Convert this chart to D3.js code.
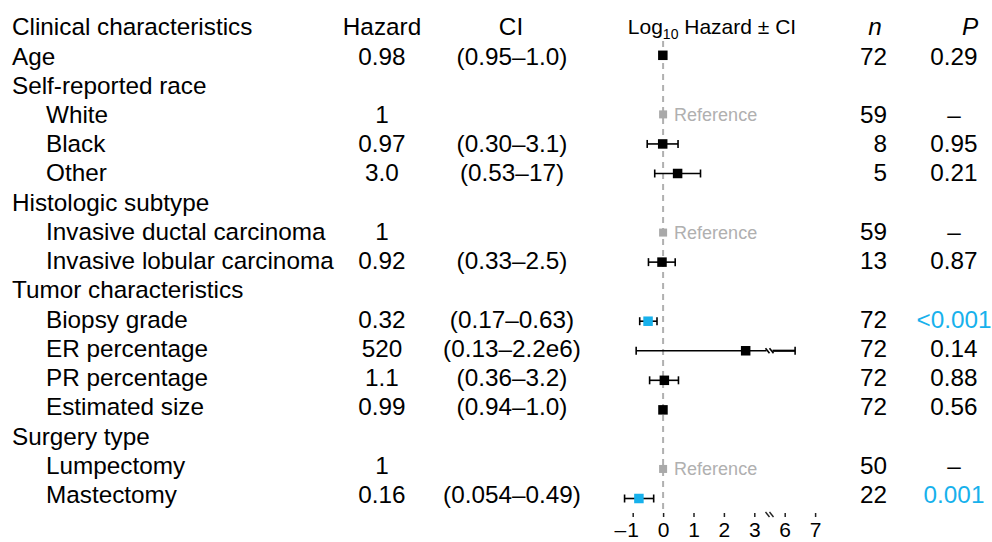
<!DOCTYPE html>
<html>
<head>
<meta charset="utf-8">
<script src="https://cdn.jsdelivr.net/npm/d3@7"></script>
<style>
    body { margin: 0; background: #fff; }
    svg text { font-family: "Liberation Sans", Arial, sans-serif; }
</style>
</head>
<body>
<div id="chart"></div>
<script>

// Row labels, top to bottom. Indented rows are sub-levels of a group.
let labels = ["Age", "Self-reported race", "White", "Black", "Other",
    "Histologic subtype", "Invasive ductal carcinoma", "Invasive lobular carcinoma",
    "Tumor characteristics", "Biopsy grade", "ER percentage", "PR percentage",
    "Estimated size", "Surgery type", "Lumpectomy", "Mastectomy"];
let indented = [false, false, true, true, true, false, true, true,
    false, true, true, true, true, false, true, true];

// Hazard ratios and confidence intervals (null = group heading, no estimate)
let hazard = [0.98, null, 1, 0.97, 3.0, null, 1, 0.92, null, 0.32, 520, 1.1, 0.99, null, 1, 0.16];
let ciLow = [0.95, null, null, 0.30, 0.53, null, null, 0.33, null, 0.17, 0.13, 0.36, 0.94, null, null, 0.054];
let ciHigh = [1.0, null, null, 3.1, 17, null, null, 2.5, null, 0.63, 2.2e6, 3.2, 1.0, null, null, 0.49];
let isReference = [false, false, true, false, false, false, true, false,
    false, false, false, false, false, false, true, false];

// Printed columns
let hazardText = ["0.98", "", "1", "0.97", "3.0", "", "1", "0.92", "", "0.32", "520", "1.1", "0.99", "", "1", "0.16"];
let ciText = ["(0.95\u20131.0)", "", "", "(0.30\u20133.1)", "(0.53\u201317)", "", "", "(0.33\u20132.5)", "",
    "(0.17\u20130.63)", "(0.13\u20132.2e6)", "(0.36\u20133.2)", "(0.94\u20131.0)", "", "", "(0.054\u20130.49)"];
let nText = ["72", "", "59", "8", "5", "", "59", "13", "", "72", "72", "72", "72", "", "50", "22"];
let pText = ["0.29", "", "\u2013", "0.95", "0.21", "", "\u2013", "0.87", "", "<0.001", "0.14", "0.88", "0.56", "", "\u2013", "0.001"];
let significant = [false, false, false, false, false, false, false, false,
    false, true, false, false, false, false, false, true];

// Axis ticks (log10 scale, broken between 3 and 6)
let tickValues = [-1, 0, 1, 2, 3, 6, 7];
let axisBreak = [3.5, 5.5];

let WIDTH = 992,
    HEIGHT = 542,
    FONT = 24.3,
    BLUE = "#17b1ec",
    GREY = "#a9a9a9",
    X_LABEL = 12,
    X_INDENT = 46,
    X_HAZARD = 382,
    X_CI = 512,
    X_N = 887,
    X_P = 954
;

let svg = d3.select("#chart")
    .append("svg")
    .attr("width", WIDTH)
    .attr("height", HEIGHT);

let rows = d3.range(labels.length);

// Text baselines and marker centres drift slightly apart in the original
let yText = d3.scalePoint().domain(rows).range([64.5, 503]);
let yMark = d3.scalePoint().domain(rows).range([55.3, 498.5]);

// Piecewise log10 scale, flat across the break
let x = d3.scaleLinear()
    .domain([-1, axisBreak[0], axisBreak[1], 7])
    .range([632.7, 769.5, 769.5, 815.1]);
let breakX = x(axisBreak[0]);

// Column headers

let header = svg.append("g").attr("font-size", FONT).attr("fill", "#000");
header.append("text").attr("x", X_LABEL).attr("y", 35).text("Clinical characteristics");
header.append("text").attr("x", X_HAZARD).attr("y", 35).attr("text-anchor", "middle").text("Hazard");
header.append("text").attr("x", X_CI - 1).attr("y", 35).attr("text-anchor", "middle").text("CI");
header.append("text").attr("x", 875).attr("y", 35).attr("text-anchor", "middle")
    .attr("font-style", "italic").text("n");
header.append("text").attr("x", 970).attr("y", 35).attr("text-anchor", "middle")
    .attr("font-style", "italic").text("P");

let logHead = header.append("text")
    .attr("x", 712).attr("y", 34)
    .attr("text-anchor", "middle")
    .attr("font-size", 21);
logHead.append("tspan").text("Log");
logHead.append("tspan").attr("font-size", 14).attr("dy", 5).text("10");
logHead.append("tspan").attr("dy", -5).text(" Hazard \u00b1 CI");

// Null line at log10(1) = 0

svg.append("line")
    .attr("x1", x(0)).attr("x2", x(0))
    .attr("y1", 41).attr("y2", 510)
    .attr("stroke", "#b0b0b0")
    .attr("stroke-width", 2)
    .attr("stroke-dasharray", "6,5");

// Table columns

let table = svg.append("g").attr("font-size", FONT).attr("fill", "#000");

table.selectAll(".label")
    .data(rows)
    .enter()
    .append("text")
    .attr("x", i => indented[i] ? X_INDENT : X_LABEL)
    .attr("y", i => yText(i))
    .text(i => labels[i]);

table.selectAll(".hazard")
    .data(rows)
    .enter()
    .append("text")
    .attr("x", X_HAZARD)
    .attr("y", i => yText(i))
    .attr("text-anchor", "middle")
    .text(i => hazardText[i]);

table.selectAll(".ci")
    .data(rows)
    .enter()
    .append("text")
    .attr("x", X_CI)
    .attr("y", i => yText(i))
    .attr("text-anchor", "middle")
    .text(i => ciText[i]);

table.selectAll(".n")
    .data(rows)
    .enter()
    .append("text")
    .attr("x", X_N)
    .attr("y", i => yText(i))
    .attr("text-anchor", "end")
    .text(i => nText[i]);

table.selectAll(".p")
    .data(rows)
    .enter()
    .append("text")
    .attr("x", X_P)
    .attr("y", i => yText(i))
    .attr("text-anchor", "middle")
    .attr("fill", i => significant[i] ? BLUE : "#000")
    .text(i => pText[i]);

// Forest plot marks

let est = rows.filter(i => hazard[i] !== null && !isReference[i]);
let refs = rows.filter(i => isReference[i]);
let CAP = 4;

let bars = svg.append("g")
    .attr("stroke", "#000")
    .attr("stroke-width", 1.6)
    .attr("fill", "none");

est.forEach(function (i) {
    let y = yMark(i),
        lo = Math.log10(ciLow[i]),
        hi = Math.log10(ciHigh[i]),
        x0 = x(lo),
        x1 = x(hi);
    if (hi > axisBreak[1]) {
        // interval runs past the axis break: split the line and mark the gap
        bars.append("line").attr("x1", x0).attr("x2", breakX - 3).attr("y1", y).attr("y2", y);
        bars.append("line").attr("x1", breakX + 3).attr("x2", x1).attr("y1", y).attr("y2", y)
            .attr("stroke-width", 2.2);
        [-2, 2].forEach(function (o) {
            bars.append("line")
                .attr("x1", breakX + o - 2).attr("y1", y - 2.5)
                .attr("x2", breakX + o + 2).attr("y2", y + 2.5);
        });
    } else {
        bars.append("line").attr("x1", x0).attr("x2", x1).attr("y1", y).attr("y2", y);
    }
    bars.append("line").attr("x1", x0).attr("x2", x0).attr("y1", y - CAP).attr("y2", y + CAP);
    bars.append("line").attr("x1", x1).attr("x2", x1).attr("y1", y - CAP).attr("y2", y + CAP);
});

let BOX = 9.5;
svg.selectAll(".box")
    .data(est)
    .enter()
    .append("rect")
    .attr("x", i => x(Math.log10(hazard[i])) - BOX / 2)
    .attr("y", i => yMark(i) - BOX / 2)
    .attr("width", BOX)
    .attr("height", BOX)
    .attr("fill", i => significant[i] ? BLUE : "#000");

// Reference categories
let REF_BOX = 8;
svg.selectAll(".ref")
    .data(refs)
    .enter()
    .append("rect")
    .attr("x", i => x(Math.log10(hazard[i])) - REF_BOX / 2)
    .attr("y", i => yMark(i) - REF_BOX / 2)
    .attr("width", REF_BOX)
    .attr("height", REF_BOX)
    .attr("fill", GREY);

svg.selectAll(".refText")
    .data(refs)
    .enter()
    .append("text")
    .attr("x", i => x(Math.log10(hazard[i])) + 11)
    .attr("y", i => yMark(i) + 6.5)
    .attr("font-size", 18)
    .attr("fill", "#b0b0b0")
    .text("Reference");

// Bottom axis (no domain line, short ticks)

let axis = d3.axisBottom(x)
    .tickValues(tickValues)
    .tickSize(4)
    .tickPadding(5)
    .tickFormat(d => Math.abs(d));

let gAxis = svg.append("g")
    .attr("transform", "translate(0,513)")
    .call(axis);

gAxis.select(".domain").remove();
gAxis.selectAll(".tick line").attr("stroke", "#222").attr("stroke-width", 1.5);
gAxis.selectAll(".tick text")
    .attr("font-size", 21)
    .attr("font-family", "Liberation Sans, Arial, sans-serif")
    .attr("fill", "#000");

// minus sign hangs to the left of the digit
gAxis.selectAll(".tick")
    .filter(d => d < 0)
    .append("text")
    .attr("x", -7)
    .attr("y", 9)
    .attr("dy", "0.71em")
    .attr("text-anchor", "end")
    .attr("font-size", 21)
    .attr("font-family", "Liberation Sans, Arial, sans-serif")
    .attr("fill", "#000")
    .text("\u2013");

// axis break marks
[-2, 2].forEach(function (o) {
    gAxis.append("line")
        .attr("x1", breakX + o - 2).attr("y1", -1)
        .attr("x2", breakX + o + 2).attr("y2", 4)
        .attr("stroke", "#222")
        .attr("stroke-width", 1.4);
});

</script>
</body>
</html>
